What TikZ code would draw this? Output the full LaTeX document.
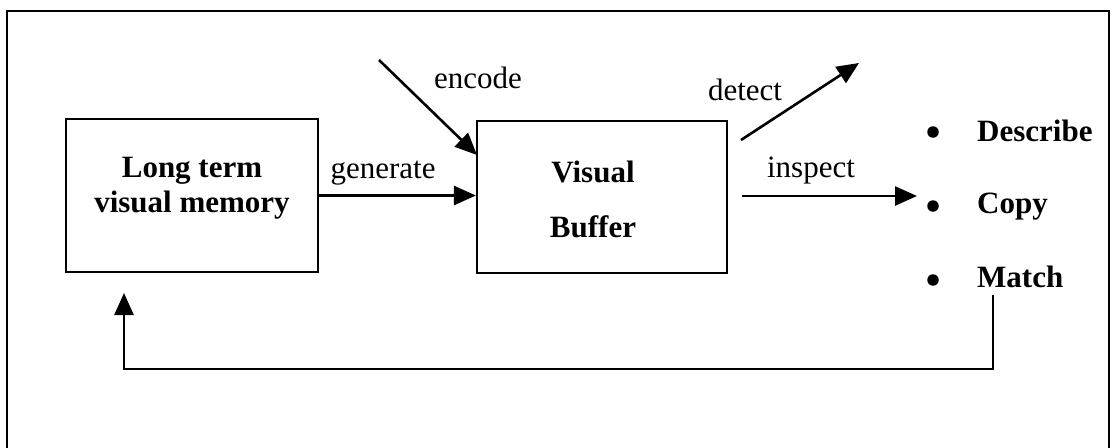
\documentclass[tikz,border=0pt]{standalone}
\usepackage{fontspec}
\setmainfont{Liberation Serif}
\usetikzlibrary{arrows.meta}
\begin{document}
\begin{tikzpicture}[x=1pt,y=-1pt,
  box/.style={draw, line width=2.2pt, inner sep=0pt},
  lbl/.style={font=\fontsize{31}{37}\selectfont, inner sep=0pt, anchor=base},
  blbl/.style={font=\fontsize{31}{37}\selectfont\bfseries, inner sep=0pt, anchor=base},
  item/.style={blbl, anchor=base west},
  dot/.style={circle, fill, inner sep=0pt, minimum size=11.5pt},
  arr/.style={line width=2.6pt, -{Triangle[length=22pt,width=19pt]}},
  frame/.style={line width=2.2pt}]
\useasboundingbox (0,0) rectangle (1113,447);
% outer frame
\draw[frame] (7,450) -- (7,11) -- (1109,11) -- (1109,450);
% boxes
\node[box, minimum width=252pt, minimum height=153pt] (ltm) at (192,195.5) {};
\node[box, minimum width=250pt, minimum height=152pt] (vb) at (602,197) {};
\node[blbl] (ltmA) at (192,177) {Long term};
\node[blbl] (ltmB) at (192,212) {visual memory};
\node[blbl] (vbA) at (593,182) {Visual};
\node[blbl] (vbB) at (593,237) {Buffer};
% generate
\draw[arr] (ltm.east) -- (ltm.east -| vb.west);
\node[lbl] (gen) at (383,178) {generate};
% encode
\coordinate (encS) at (379,60);
\coordinate (encE) at (477,155);
\draw[arr] (encS) -- (encE);
\node[lbl] (enc) at (478,88) {encode};
% detect
\coordinate (detS) at (741,140);
\coordinate (detE) at (859,63);
\draw[arr] (detS) -- (detE);
\node[lbl] (det) at (745,100) {detect};
% inspect
\coordinate (insS) at (742,196);
\coordinate (insE) at (917,196);
\draw[arr] (insS) -- (insE);
\node[lbl] (ins) at (811,177) {inspect};
% list
\node[dot] (b1) at (933,132) {};
\node[dot] (b2) at (933,206) {};
\node[dot] (b3) at (933,280) {};
\node[item] (describe) at (977,141) {Describe};
\node[item] (copy) at (977,213) {Copy};
\node[item] (match) at (977,287) {Match};
% feedback
\coordinate (fbS) at (993,295);
\coordinate (fbE) at (124,293);
\draw[arr] (fbS) -- ++(0,74) -| (fbE);
\end{tikzpicture}
\end{document}
